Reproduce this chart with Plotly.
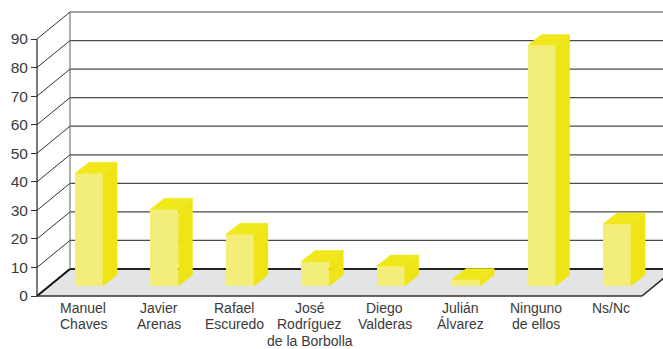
import plotly.graph_objects as go

# ---------------- data ----------------
categories = ["Manuel<br>Chaves", "Javier<br>Arenas", "Rafael<br>Escuredo",
              "José<br>Rodríguez<br>de la Borbolla", "Diego<br>Valderas",
              "Julián<br>Álvarez", "Ninguno<br>de ellos", "Ns/Nc"]
values = [39.5, 26.9, 18.1, 8.6, 7.0, 2.3, 84.2, 21.7]
y_ticks = [0, 10, 20, 30, 40, 50, 60, 70, 80, 90]

# ---------------- geometry (pixel calibration) ----------------
W, H = 663, 349
PX_X = 75.43          # px per category step
X0_PX = 89.0          # px of first bar front-face centre
PX_Y = 257.0 / 90.0   # px per value unit
Y0_PX = 296.0         # px of value 0 (front)
TOP_PX, BOT_PX = 5, 300


def px_x(p):
    return (p - X0_PX) / PX_X


def px_dy(p):
    return p / PX_Y


x_range = [px_x(0), px_x(W)]
y_range = [(Y0_PX - BOT_PX) / PX_Y, (Y0_PX - TOP_PX) / PX_Y]

DX, DY = 33 / PX_X, px_dy(27)           # wall depth
BAR_W = 28 / PX_X
BAR_BASE = px_dy(10)
BAR_DX, BAR_DY = 14 / PX_X, px_dy(11)
FL, FR = px_x(37), px_x(642)            # floor front-left / front-right
XMAX = x_range[1] + 1

FRONT = "#f3ed7a"
SIDE = "#efe516"
TOP = "#f1e81c"
FLOOR = "#e3e4e6"
TXT = "#3a3a3a"

n = len(values)
xs = list(range(n))

fig = go.Figure()

# bar front faces
fig.add_trace(go.Bar(x=xs, y=values, base=BAR_BASE, width=BAR_W,
                     marker=dict(color=FRONT, line=dict(width=0)),
                     hoverinfo="skip"))

# side faces
sx, sy = [], []
for i, v in enumerate(values):
    xr = i + BAR_W / 2
    sx += [xr, xr + BAR_DX, xr + BAR_DX, xr, xr, None]
    sy += [BAR_BASE, BAR_BASE + BAR_DY, BAR_BASE + v + BAR_DY, BAR_BASE + v, BAR_BASE, None]
fig.add_trace(go.Scatter(x=sx, y=sy, mode="lines", fill="toself", fillcolor=SIDE,
                         line=dict(color=SIDE, width=0.5), hoverinfo="skip"))

# top faces
tx, ty = [], []
for i, v in enumerate(values):
    xl, xr = i - BAR_W / 2, i + BAR_W / 2
    t = BAR_BASE + v
    tx += [xl, xr, xr + BAR_DX, xl + BAR_DX, xl, None]
    ty += [t, t, t + BAR_DY, t + BAR_DY, t, None]
fig.add_trace(go.Scatter(x=tx, y=ty, mode="lines", fill="toself", fillcolor=TOP,
                         line=dict(color=TOP, width=0.5), hoverinfo="skip"))

shapes = []
# floor
shapes.append(dict(type="path", xref="x", yref="y", layer="below",
                   path=f"M {FL},0 L {FR},0 L {FR + DX},{DY} L {FL + DX},{DY} Z",
                   fillcolor=FLOOR, line=dict(width=0)))


def seg(x0, y0, x1, y1, color, width):
    shapes.append(dict(type="line", xref="x", yref="y", layer="below",
                       x0=x0, y0=y0, x1=x1, y1=y1,
                       line=dict(color=color, width=width)))


# back wall gridlines
for v in y_ticks:
    if v == 0:
        seg(FL + DX, v + DY, XMAX, v + DY, "#222222", 2)
    else:
        seg(FL + DX, v + DY, XMAX, v + DY, "#4a4a4a", 1.2)
# back wall left edge
seg(FL + DX, DY, FL + DX, y_ticks[-1] + DY, "#7a7a7a", 1.2)
# diagonals on left wall
for v in y_ticks:
    if v == 0:
        seg(FL, v, FL + DX, v + DY, "#111111", 2)
    else:
        seg(FL, v, FL + DX, v + DY, "#333333", 1)
# front vertical axis line
seg(FL, 0, FL, y_ticks[-1], "#222222", 1.2)
# floor front and right edges
seg(FL, 0, FR, 0, "#333333", 1.5)
seg(FR, 0, FR + DX, DY, "#222222", 1.5)

# category labels: one annotation per line
annotations = []
LINE0_PX, LINE_STEP = 308.0, 16.3
for i, c in enumerate(categories):
    for k, line in enumerate(c.split("<br>")):
        ypx = LINE0_PX + k * LINE_STEP
        annotations.append(dict(
            x=i - 5.75 / PX_X, xref="x",
            y=(BOT_PX - ypx) / (BOT_PX - TOP_PX), yref="paper",
            text=line, showarrow=False, xanchor="center", yanchor="middle",
            font=dict(family="Liberation Sans, Arial", size=14, color=TXT)))

fig.update_layout(
    width=W, height=H,
    margin=dict(l=0, r=0, t=TOP_PX, b=H - BOT_PX, autoexpand=False),
    paper_bgcolor="white", plot_bgcolor="white",
    showlegend=False, shapes=shapes, annotations=annotations,
    bargap=0,
    xaxis=dict(range=x_range, showticklabels=False, showgrid=False, zeroline=False,
               showline=False, ticks="", fixedrange=True),
    yaxis=dict(range=y_range, anchor="free", position=37 / W, side="left",
               tickmode="array", tickvals=y_ticks, ticks="outside", ticklen=6,
               tickcolor="#333333", tickwidth=1, showgrid=False, zeroline=False,
               showline=False, fixedrange=True,
               tickfont=dict(family="Liberation Sans, Arial", size=15.5, color=TXT)),
)

fig.write_html("out.html")
